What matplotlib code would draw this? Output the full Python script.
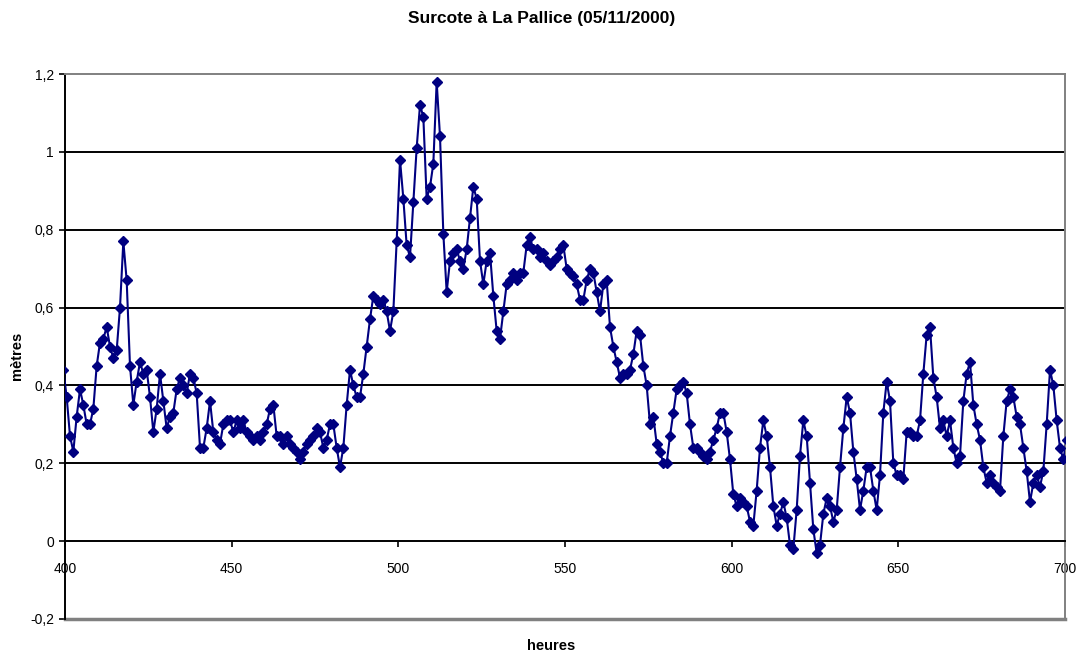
import numpy as np
import matplotlib
matplotlib.use("Agg")
import matplotlib.pyplot as plt
from matplotlib.ticker import FuncFormatter

plt.rcParams['font.family'] = ['Liberation Sans', 'DejaVu Sans']

# hourly surge values (m), first sample at 399.5 h
start_hour = 399.5
surcote = [
    0.44, 0.37, 0.27, 0.23, 0.32, 0.39, 0.35, 0.30, 0.30, 0.34,
    0.45, 0.51, 0.52, 0.55, 0.50, 0.47, 0.49, 0.60, 0.77, 0.67,
    0.45, 0.35, 0.41, 0.46, 0.43, 0.44, 0.37, 0.28, 0.34, 0.43,
    0.36, 0.29, 0.32, 0.33, 0.39, 0.42, 0.40, 0.38, 0.43, 0.42,
    0.38, 0.24, 0.24, 0.29, 0.36, 0.28, 0.26, 0.25, 0.30, 0.31,
    0.31, 0.28, 0.31, 0.29, 0.31, 0.28, 0.27, 0.26, 0.27, 0.26,
    0.28, 0.30, 0.34, 0.35, 0.27, 0.27, 0.25, 0.27, 0.25, 0.24,
    0.23, 0.21, 0.23, 0.25, 0.26, 0.27, 0.29, 0.28, 0.24, 0.26,
    0.30, 0.30, 0.24, 0.19, 0.24, 0.35, 0.44, 0.40, 0.37, 0.37,
    0.43, 0.50, 0.57, 0.63, 0.62, 0.61, 0.62, 0.59, 0.54, 0.59,
    0.77, 0.98, 0.88, 0.76, 0.73, 0.87, 1.01, 1.12, 1.09, 0.88,
    0.91, 0.97, 1.18, 1.04, 0.79, 0.64, 0.72, 0.74, 0.75, 0.72,
    0.70, 0.75, 0.83, 0.91, 0.88, 0.72, 0.66, 0.72, 0.74, 0.63,
    0.54, 0.52, 0.59, 0.66, 0.67, 0.69, 0.67, 0.69, 0.69, 0.76,
    0.78, 0.75, 0.75, 0.73, 0.74, 0.72, 0.71, 0.72, 0.73, 0.75,
    0.76, 0.70, 0.69, 0.68, 0.66, 0.62, 0.62, 0.67, 0.70, 0.69,
    0.64, 0.59, 0.66, 0.67, 0.55, 0.50, 0.46, 0.42, 0.43, 0.43,
    0.44, 0.48, 0.54, 0.53, 0.45, 0.40, 0.30, 0.32, 0.25, 0.23,
    0.20, 0.20, 0.27, 0.33, 0.39, 0.40, 0.41, 0.38, 0.30, 0.24,
    0.24, 0.23, 0.22, 0.21, 0.23, 0.26, 0.29, 0.33, 0.33, 0.28,
    0.21, 0.12, 0.09, 0.11, 0.10, 0.09, 0.05, 0.04, 0.13, 0.24,
    0.31, 0.27, 0.19, 0.09, 0.04, 0.07, 0.10, 0.06, -0.01, -0.02,
    0.08, 0.22, 0.31, 0.27, 0.15, 0.03, -0.03, -0.01, 0.07, 0.11,
    0.09, 0.05, 0.08, 0.19, 0.29, 0.37, 0.33, 0.23, 0.16, 0.08,
    0.13, 0.19, 0.19, 0.13, 0.08, 0.17, 0.33, 0.41, 0.36, 0.20,
    0.17, 0.17, 0.16, 0.28, 0.28, 0.27, 0.27, 0.31, 0.43, 0.53,
    0.55, 0.42, 0.37, 0.29, 0.31, 0.27, 0.31, 0.24, 0.20, 0.22,
    0.36, 0.43, 0.46, 0.35, 0.30, 0.26, 0.19, 0.15, 0.17, 0.15,
    0.14, 0.13, 0.27, 0.36, 0.39, 0.37, 0.32, 0.30, 0.24, 0.18,
    0.10, 0.15, 0.17, 0.14, 0.18, 0.30, 0.44, 0.40, 0.31, 0.24,
    0.21, 0.26,
]
heures = start_hour + np.arange(len(surcote))

title = "Surcote à La Pallice (05/11/2000)"
xlabel = "heures"
ylabel = "mètres"
x_ticks = [400, 450, 500, 550, 600, 650, 700]
y_ticks = [-0.2, 0, 0.2, 0.4, 0.6, 0.8, 1.0, 1.2]

fig = plt.figure(figsize=(10.79, 6.57), dpi=100)
ax = fig.add_axes([65/1079, 1-619/657, 1000/1079, (619-74)/657])

navy = '#000080'
for yv in [0.2, 0.4, 0.6, 0.8, 1.0]:
    ax.axhline(yv, color='black', lw=1.4, zorder=1)

ax.plot(heures, surcote, color=navy, lw=1.5, marker='D', markersize=5,
        markerfacecolor=navy, markeredgecolor=navy, zorder=3)

ax.set_xlim(400, 700)
ax.set_ylim(-0.2, 1.2)
ax.set_xticks(x_ticks)
ax.set_yticks(y_ticks)

def fmt(v, pos):
    s = ('%g' % round(v, 2)).replace('.', ',')
    return '0' if s in ('-0', '0') else s
ax.yaxis.set_major_formatter(FuncFormatter(fmt))

ax.spines['bottom'].set_position(('data', 0))
ax.spines['bottom'].set_color('black')
ax.spines['bottom'].set_linewidth(1.4)
ax.spines['left'].set_color('black')
ax.spines['left'].set_linewidth(1.4)
ax.spines['top'].set_color('#808080')
ax.spines['top'].set_linewidth(1.4)
ax.spines['right'].set_color('#808080')
ax.spines['right'].set_linewidth(1.4)
ax.axhline(-0.2, color='#808080', lw=2.5, zorder=2, clip_on=False)

ax.tick_params(axis='x', direction='out', length=4, width=1.2, pad=11,
               labelsize=10, color='black')
ax.tick_params(axis='y', direction='out', length=4, width=1.2, pad=4,
               labelsize=10, color='black')

fig.text(542/1079, 1-18/657, title, ha='center', va='center',
         fontsize=12.5, fontweight='bold')
fig.text(551/1079, 1-646/657, xlabel, ha='center', va='center',
         fontsize=10.5, fontweight='bold')
fig.text(17/1079, 1-356/657, ylabel, ha='center', va='center',
         rotation=90, fontsize=10.5, fontweight='bold')

fig.savefig('out.png', dpi=100)
